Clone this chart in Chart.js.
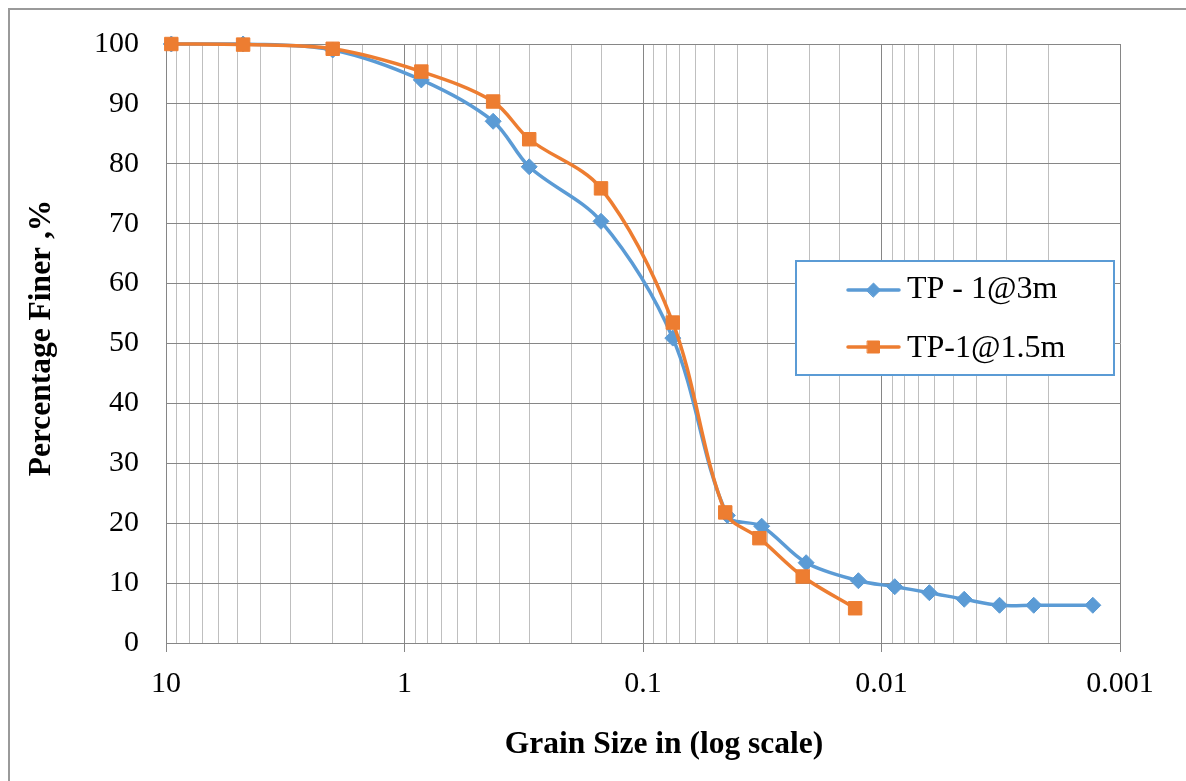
<!DOCTYPE html>
<html>
<head>
<meta charset="utf-8">
<script src="https://cdn.jsdelivr.net/npm/chart.js@4.4.1/dist/chart.umd.min.js"></script>
<style>
  html, body { margin: 0; padding: 0; background: #fff; }
  canvas { display: block; }
</style>
</head>
<body>
<canvas id="c" width="1186" height="781"></canvas>
<script>
// ---- data ----
const seriesNames = ['TP - 1@3m', 'TP-1@1.5m'];
const sizes3m  = [9.5, 4.75, 2.0, 0.85, 0.425, 0.3, 0.15, 0.075, 0.0443, 0.0318, 0.0207, 0.0125, 0.0088, 0.0063, 0.0045, 0.0032, 0.0023, 0.0013];
const finer3m  = [100, 100, 99.0, 94.0, 87.1, 79.5, 70.4, 50.9, 21.3, 19.5, 13.4, 10.4, 9.4, 8.4, 7.3, 6.3, 6.3, 6.3];
const sizes15m = [9.5, 4.75, 2.0, 0.85, 0.425, 0.3, 0.15, 0.075, 0.0452, 0.0325, 0.0214, 0.0129];
const finer15m = [100, 99.9, 99.2, 95.4, 90.4, 84.1, 75.9, 53.5, 21.8, 17.5, 11.1, 5.8];
const xTickValues = [10, 1, 0.1, 0.01, 0.001];
const xTickLabels = ['10', '1', '0.1', '0.01', '0.001'];
const xTitle = 'Grain Size in (log scale)';
const yTitle = 'Percentage Finer ,%';

const BLUE = '#5B9BD5';
const ORANGE = '#ED7D31';
const MAJOR = '#868686';
const MINOR = '#BFBFBF';
const FONT = "'Liberation Serif', 'Times New Roman', serif";

function isMajor(v) {
  const l = Math.log10(v);
  return Math.abs(l - Math.round(l)) < 1e-6;
}
function labelFor(v) {
  for (let i = 0; i < xTickValues.length; i++) {
    if (Math.abs(Math.log10(v) - Math.log10(xTickValues[i])) < 1e-6) return xTickLabels[i];
  }
  return '';
}

const framePlugin = {
  id: 'frame',
  beforeDraw(chart) {
    const ctx = chart.ctx;
    ctx.save();
    ctx.fillStyle = '#fff';
    ctx.fillRect(0, 0, chart.width, chart.height);
    ctx.strokeStyle = '#9a9a9a';
    ctx.lineWidth = 2;
    ctx.beginPath();
    ctx.moveTo(9, chart.height + 5);
    ctx.lineTo(9, 9);
    ctx.lineTo(chart.width + 5, 9);
    ctx.stroke();
    ctx.restore();
  }
};

const titlesPlugin = {
  id: 'titles',
  afterDraw(chart) {
    const ctx = chart.ctx;
    ctx.save();
    ctx.fillStyle = '#000';
    ctx.font = "bold 31.5px " + FONT;
    ctx.textAlign = 'center';
    ctx.textBaseline = 'alphabetic';
    ctx.fillText(xTitle, 664, 753);
    ctx.translate(50, 338);
    ctx.rotate(-Math.PI / 2);
    ctx.fillText(yTitle, 0, 0);
    ctx.restore();
  }
};

const legendPlugin = {
  id: 'boxLegend',
  afterDraw(chart) {
    const ctx = chart.ctx;
    ctx.save();
    ctx.fillStyle = '#fff';
    ctx.fillRect(796, 261, 318, 114);
    ctx.strokeStyle = BLUE;
    ctx.lineWidth = 2;
    ctx.strokeRect(796, 261, 318, 114);
    const rowsY = [290, 347];
    const baseY = [298, 357];
    chart.data.datasets.forEach((ds, i) => {
      const y = rowsY[i];
      ctx.strokeStyle = ds.borderColor;
      ctx.lineWidth = ds.borderWidth;
      ctx.lineCap = 'round';
      ctx.beginPath();
      ctx.moveTo(848, y);
      ctx.lineTo(899, y);
      ctx.stroke();
      ctx.fillStyle = ds.pointBackgroundColor;
      ctx.strokeStyle = ds.pointBorderColor;
      ctx.lineWidth = 1;
      Chart.helpers.drawPoint(ctx, { pointStyle: ds.pointStyle, radius: ds.pointRadius - 1, rotation: 0, borderWidth: 1 }, 873.5, y);
      ctx.fillStyle = '#000';
      ctx.font = "32px " + FONT;
      ctx.textAlign = 'left';
      ctx.textBaseline = 'alphabetic';
      ctx.fillText(ds.label, 907, baseY[i]);
    });
    ctx.restore();
  }
};

new Chart(document.getElementById('c'), {
  type: 'line',
  data: {
    datasets: [
      {
        label: seriesNames[0],
        data: sizes3m.map((x, i) => ({ x: x, y: finer3m[i] })),
        borderColor: BLUE,
        backgroundColor: BLUE,
        pointBackgroundColor: BLUE,
        pointBorderColor: BLUE,
        pointStyle: 'rectRot',
        pointRadius: 8,
        pointBorderWidth: 1,
        borderWidth: 3.5,
        tension: 0.33,
        fill: false,
        order: 2
      },
      {
        label: seriesNames[1],
        data: sizes15m.map((x, i) => ({ x: x, y: finer15m[i] })),
        borderColor: ORANGE,
        backgroundColor: ORANGE,
        pointBackgroundColor: ORANGE,
        pointBorderColor: ORANGE,
        pointStyle: 'rect',
        pointRadius: 9.5,
        pointBorderWidth: 1,
        borderWidth: 3.5,
        tension: 0.33,
        fill: false,
        order: 1
      }
    ]
  },
  options: {
    responsive: false,
    animation: false,
    devicePixelRatio: 1,
    clip: false,
    layout: { padding: { left: 0, top: 44, right: 66, bottom: 0 } },
    plugins: {
      legend: { display: false },
      tooltip: { enabled: false }
    },
    scales: {
      x: {
        type: 'logarithmic',
        reverse: true,
        min: 0.001,
        max: 10,
        afterFit(scale) { scale.height = 138; },
        border: { color: MAJOR, width: 1 },
        grid: {
          color: (c) => (c.tick && isMajor(c.tick.value)) ? MAJOR : MINOR,
          tickColor: (c) => (c.tick && isMajor(c.tick.value)) ? MAJOR : 'rgba(0,0,0,0)',
          tickLength: 9,
          lineWidth: 1
        },
        ticks: {
          autoSkip: false,
          maxRotation: 0,
          minRotation: 0,
          padding: 14,
          color: '#000',
          font: { family: FONT, size: 30 },
          callback: (v) => labelFor(v)
        }
      },
      y: {
        type: 'linear',
        min: 0,
        max: 100,
        afterFit(scale) { scale.width = 166; },
        border: { color: MAJOR, width: 1 },
        grid: {
          color: MAJOR,
          tickColor: 'rgba(0,0,0,0)',
          tickLength: 8,
          lineWidth: 1
        },
        ticks: {
          stepSize: 10,
          padding: 19,
          color: '#000',
          font: { family: FONT, size: 30 }
        }
      }
    }
  },
  plugins: [framePlugin, titlesPlugin, legendPlugin]
});
</script>
</body>
</html>
